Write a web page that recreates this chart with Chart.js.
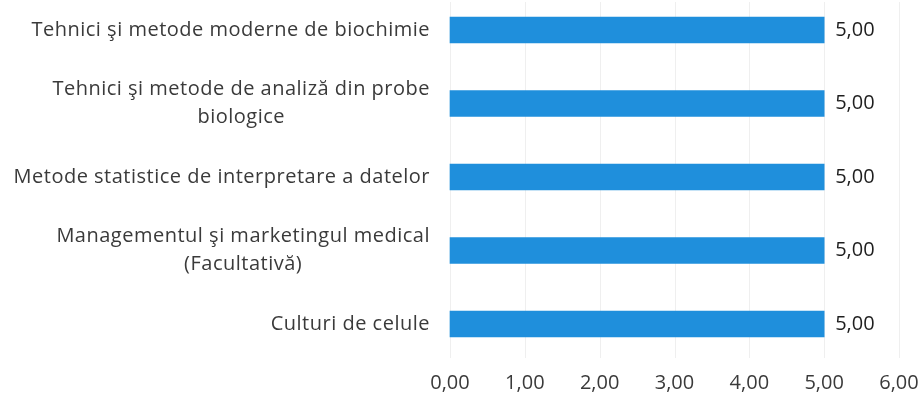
<!DOCTYPE html>
<html>
<head>
<meta charset="utf-8">
<script src="https://cdn.jsdelivr.net/npm/chart.js@4.4.1/dist/chart.umd.min.js"></script>
<style>
  body { margin: 0; background: #fff; }
  #wrap { width: 922px; height: 405px; }
</style>
</head>
<body>
<div id="wrap"><canvas id="subjects" width="922" height="405"></canvas></div>
<script>
//----------------------------------------------
// data
//----------------------------------------------
const subjectLabels = [
  ['Tehnici şi metode moderne de biochimie'],
  ['Tehnici şi metode de analiză din probe', 'biologice'],
  ['Metode statistice de interpretare a datelor'],
  ['Managementul şi marketingul medical', '(Facultativă)'],
  ['Culturi de celule']
];
const subjectScores = [5.00, 5.00, 5.00, 5.00, 5.00];
const xTickValues = [0, 1, 2, 3, 4, 5, 6];

const FONT = '"Open Sans", sans-serif';
const FONT_SIZE = 20;
const TEXT_COLOR = '#3a3a3a';

function fmt(v) {
  return v.toFixed(2).replace('.', ',');
}

// category labels: block right-aligned, lines centred inside the block
const labelPlugin = {
  id: 'labelPlugin',
  afterDraw(chart) {
    const ctx = chart.ctx;
    const yScale = chart.scales.y;
    const right = 430;
    const lineH = 28;
    ctx.save();
    ctx.font = FONT_SIZE + 'px ' + FONT;
    ctx.letterSpacing = '0.5px';
    ctx.fillStyle = TEXT_COLOR;
    ctx.textAlign = 'center';
    ctx.textBaseline = 'middle';
    subjectLabels.forEach((lines, i) => {
      const cy = yScale.getPixelForValue(i);
      const w = Math.max(...lines.map(l => ctx.measureText(l).width));
      const cx = right - w / 2;
      const top = cy - (lines.length - 1) * lineH / 2;
      lines.forEach((l, j) => ctx.fillText(l, cx, top + j * lineH));
    });
    ctx.restore();
  }
};

// value labels at bar ends
const valuePlugin = {
  id: 'valuePlugin',
  afterDatasetsDraw(chart) {
    const ctx = chart.ctx;
    const meta = chart.getDatasetMeta(0);
    ctx.save();
    ctx.font = FONT_SIZE + 'px ' + FONT;
    ctx.fillStyle = '#1e1e1e';
    ctx.textAlign = 'left';
    ctx.textBaseline = 'middle';
    meta.data.forEach((bar, i) => {
      ctx.fillText(fmt(subjectScores[i]), bar.x + 11, bar.y);
    });
    ctx.restore();
  }
};

// faint vertical gridlines, taller than the plot area
const gridPlugin = {
  id: 'gridPlugin',
  beforeDatasetsDraw(chart) {
    const ctx = chart.ctx;
    const xScale = chart.scales.x;
    ctx.save();
    ctx.strokeStyle = '#efefef';
    ctx.lineWidth = 1;
    xTickValues.forEach(v => {
      const x = Math.round(xScale.getPixelForValue(v)) + 0.5;
      ctx.beginPath();
      ctx.moveTo(x, 2);
      ctx.lineTo(x, 358);
      ctx.stroke();
    });
    ctx.restore();
  }
};

const ctx = document.getElementById('subjects').getContext('2d');

const subjectChart = new Chart(ctx, {
  type: 'bar',
  data: {
    labels: subjectLabels,
    datasets: [{
      data: subjectScores,
      backgroundColor: '#1f8fdc',
      barThickness: 26,
      clip: false
    }]
  },
  options: {
    indexAxis: 'y',
    responsive: false,
    animation: false,
    layout: { padding: { top: 30, right: 23, left: 0, bottom: 0 } },
    plugins: {
      legend: { display: false },
      tooltip: { enabled: false }
    },
    scales: {
      x: {
        min: 0,
        max: 6,
        afterBuildTicks(scale) {
          scale.ticks = xTickValues.map(v => ({ value: v }));
        },
        afterFit(scale) {
          scale.height = 81;
          scale.paddingLeft = 0;
          scale.paddingRight = 0;
        },
        grid: { display: false, drawTicks: false },
        border: { display: false },
        ticks: {
          padding: 47,
          maxRotation: 0,
          color: TEXT_COLOR,
          font: { family: FONT, size: FONT_SIZE },
          callback: v => fmt(v)
        }
      },
      y: {
        offset: false,
        afterFit(scale) {
          scale.width = 450;
          scale.paddingTop = 0;
          scale.paddingBottom = 0;
        },
        grid: { display: false },
        border: { display: false },
        ticks: { display: false }
      }
    }
  },
  plugins: [gridPlugin, valuePlugin, labelPlugin]
});
</script>
</body>
</html>
